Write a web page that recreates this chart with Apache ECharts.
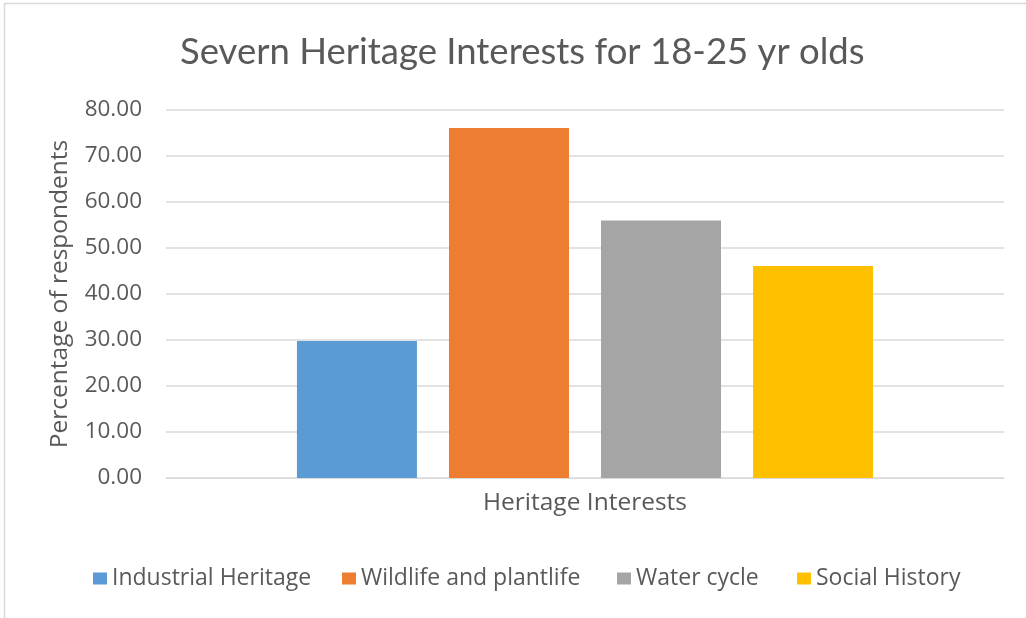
<!DOCTYPE html>
<html>
<head>
<meta charset="utf-8">
<script src="https://cdn.jsdelivr.net/npm/echarts@6/dist/echarts.min.js"></script>
<style>
  html, body { margin: 0; padding: 0; background: #ffffff; }
  #chart { width: 1026px; height: 618px; }
</style>
</head>
<body>
<div id="chart"></div>
<script>
// Survey results: share of 18-25 year olds interested in each heritage theme
const categories = ['Heritage Interests'];
const seriesNames = ['Industrial Heritage', 'Wildlife and plantlife', 'Water cycle', 'Social History'];
const industrialHeritage = [29.8];
const wildlifeAndPlantlife = [76.1];
const waterCycle = [56.0];
const socialHistory = [46.1];
const seriesColors = ['#5B9BD5', '#ED7D31', '#A5A5A5', '#FFC000'];
const yTicks = { min: 0, max: 80, interval: 10 };

const seriesValues = [industrialHeritage, wildlifeAndPlantlife, waterCycle, socialHistory];
const textColor = '#595959';
const labelFont = 'Open Sans';

// one legend entry per series, laid out left to right along the bottom
const legendLeft = [93, 342, 617, 797];
const legends = seriesNames.map((name, i) => ({
  top: 567,
  left: legendLeft[i],
  padding: 0,
  itemWidth: 14,
  itemHeight: 12,
  icon: 'rect',
  textStyle: { fontFamily: labelFont, fontSize: 23, color: textColor },
  data: [name]
}));

const chart = echarts.init(document.getElementById('chart'), null, { renderer: 'canvas' });

chart.setOption({
  backgroundColor: '#ffffff',
  animation: false,
  title: {
    text: 'Severn Heritage Interests for 18-25 yr olds',
    left: 175,
    top: 29,
    textStyle: { fontFamily: 'Lato', fontSize: 36.5, fontWeight: 'normal', color: textColor }
  },
  graphic: [{
    type: 'rect',
    shape: { x: 4.5, y: 3.5, width: 1030, height: 620 },
    style: { fill: 'none', stroke: '#D9D9D9', lineWidth: 1.5 },
    silent: true
  }],
  legend: legends,
  grid: { left: 166, right: 22, top: 110, bottom: 140 },
  xAxis: {
    type: 'category',
    data: categories,
    axisLine: { show: true, lineStyle: { color: '#D9D9D9', width: 1 } },
    axisTick: { show: false },
    axisLabel: {
      show: true,
      fontFamily: labelFont,
      fontSize: 24.5,
      color: textColor,
      margin: 13
    }
  },
  yAxis: {
    type: 'value',
    min: yTicks.min,
    max: yTicks.max,
    interval: yTicks.interval,
    name: 'Percentage of respondents',
    nameLocation: 'middle',
    nameGap: 93,
    nameTextStyle: { fontFamily: labelFont, fontSize: 24.5, color: textColor },
    axisLine: { show: false },
    axisTick: { show: false },
    splitLine: { lineStyle: { color: '#D9D9D9', width: 1.5 } },
    axisLabel: {
      fontFamily: labelFont,
      fontSize: 22.5,
      color: textColor,
      margin: 24,
      formatter: v => v.toFixed(2)
    }
  },
  series: seriesNames.map((name, i) => ({
    name: name,
    type: 'bar',
    data: seriesValues[i],
    barWidth: 120,
    barGap: '26.7%',
    itemStyle: { color: seriesColors[i] }
  }))
});
</script>
</body>
</html>
